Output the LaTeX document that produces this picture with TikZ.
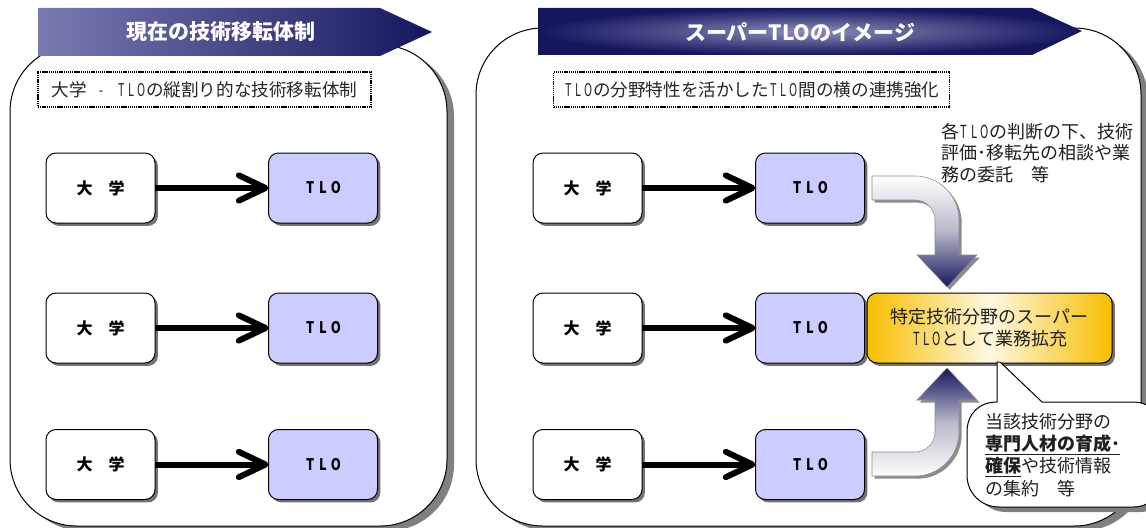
\documentclass[tikz,border=0pt]{standalone}
\usepackage{graphicx}
\usepackage{fontspec}
\setmainfont{Noto Sans CJK JP}
\usetikzlibrary{arrows.meta,shadows}
\definecolor{navy}{HTML}{16165E}
\definecolor{bannerlight}{HTML}{7A7AB2}
\definecolor{bannerglow}{HTML}{8C8CBC}
\definecolor{lav}{HTML}{CCCCFF}
\definecolor{gold}{HTML}{F7BE00}
\definecolor{cream}{HTML}{FFF8E2}
\definecolor{arrowmid}{HTML}{B8B8CA}
\newcommand\hw[1]{\makebox[0.56em]{\scalebox{0.62}[1]{#1}}}
\newcommand\hTLO{\hw{T}\hw{L}\hw{O}}
\newcommand\bw[1]{\makebox[0.8em]{\scalebox{0.8}[1]{#1}}}
\newcommand\bTLO{\bw{T}\bw{L}\bw{O}}
\newcommand\toparrowpath{(872,176) -- (915,176) .. controls (939.3,176) and (959,195.7) .. (959,220) -- (959,255) -- (977,255) -- (947,287) -- (917,255) -- (935,255) -- (935,220) .. controls (935,209) and (926,200) .. (915,200) -- (872,200) -- cycle}
\newcommand\botarrowpath{(872,476) -- (915,476) .. controls (939.3,476) and (959,456.3) .. (959,432) -- (959,400) -- (977,400) -- (947,368) -- (917,400) -- (935,400) -- (935,432) .. controls (935,443) and (926,452) .. (915,452) -- (872,452) -- cycle}
\begin{document}
\begin{tikzpicture}[x=0.75pt,y=-0.75pt,
  every node/.style={inner sep=0pt, outer sep=0pt},
  pshadow/.style={fill=black!50, draw=none, rounded corners=50pt},
  panel/.style={draw=black, line width=0.75pt, fill=white, rounded corners=50pt},
  btext/.style={text=white, font=\bfseries\fontsize{15.75pt}{18pt}\selectfont},
  subbox/.style={draw=black, line width=1.4pt, dash pattern=on 1pt off 0.6pt, fill=white,
    minimum height=26.25pt, text=black!85, font=\fontsize{13.2pt}{16pt}\selectfont},
  unibox/.style={draw=black, line width=0.75pt, fill=white, rounded corners=7.5pt,
    minimum width=81.75pt, minimum height=52.5pt, font=\bfseries\fontsize{12pt}{14pt}\selectfont,
    drop shadow={shadow xshift=2.2pt, shadow yshift=-2.2pt, fill=black!55, opacity=1}},
  tlobox/.style={unibox, fill=lav, font=\bfseries\fontsize{12pt}{14pt}\selectfont},
  link/.style={line width=4.5pt, -{Straight Barb[length=20pt,width=19pt,round]}},
  body/.style={font=\fontsize{13.5pt}{16.2pt}\selectfont, text=black!88, align=left},
  ashadow/.style={fill=black!45, draw=none},
  blockarrow/.style={draw=black!45, line width=0.4pt},
]
\useasboundingbox (0,0) rectangle (1146,528);

% panels
\fill[pshadow] (17,300) -- (17,50) -- (454,50) -- (454,531) -- (17,531) -- cycle;
\draw[panel] (10,300) -- (10,45) -- (447,45) -- (447,526) -- (10,526) -- cycle;
\fill[pshadow] (483,300) -- (483,33) -- (1148,33) -- (1148,531) -- (483,531) -- cycle;
\draw[panel] (476,300) -- (476,28) -- (1141,28) -- (1141,526) -- (476,526) -- cycle;

% banners
\shade[left color=bannerlight, right color=navy] (38,8) -- (380,8) -- (432,32) -- (380,56) -- (38,56) -- cycle;
\shade[inner color=bannerglow, outer color=navy] (538,8) -- (1032,8) -- (1082,31) -- (1032,55) -- (538,55) -- cycle;
\node[btext] (b1) at (221,32) {現在の技術移転体制};
\node[btext] (b2) at (800,32) {スーパーTLOのイメージ};

% subtitles
\node[subbox, minimum width=249.75pt] (s1) at (204.5,89.5) {大学\hw{}\hw{-}\hw{}\hTLO の縦割り的な技術移転体制};
\node[subbox, minimum width=297pt] (s2) at (751.5,89.5) {\hTLO の分野特性を活かした\hTLO 間の横の連携強化};

% left column
\node[unibox] (u1) at (100.5,188) {大　学};
\node[unibox] (u2) at (100.5,328) {大　学};
\node[unibox] (u3) at (100.5,464.5) {大　学};
\node[tlobox] (t1) at (323,188) {\bTLO};
\node[tlobox] (t2) at (323,328) {\bTLO};
\node[tlobox] (t3) at (323,464.5) {\bTLO};
\draw[link] (u1.east) -- (t1.west);
\draw[link] (u2.east) -- (t2.west);
\draw[link] (u3.east) -- (t3.west);

% right column
\node[unibox] (v1) at (587.5,188) {大　学};
\node[unibox] (v2) at (587.5,328) {大　学};
\node[unibox] (v3) at (587.5,464.5) {大　学};
\node[tlobox] (r1) at (810,188) {\bTLO};
\node[tlobox] (r2) at (810,328) {\bTLO};
\node[tlobox] (r3) at (810,464.5) {\bTLO};
\draw[link] (v1.east) -- (r1.west);
\draw[link] (v2.east) -- (r2.west);
\draw[link] (v3.east) -- (r3.west);

% super TLO box
\node[draw=black, line width=0.75pt, rounded corners=7.5pt, minimum width=183.75pt, minimum height=52.5pt,
  left color=gold, right color=gold, middle color=cream, align=center, text=black!88,
  font=\fontsize{13.5pt}{16.5pt}\selectfont,
  drop shadow={shadow xshift=2.2pt, shadow yshift=-2.2pt, fill=black!55, opacity=1}]
  (y) at (989.5,328) {特定技術分野のスーパー\\\hTLO として業務拡充};

% curved block arrows
\begin{scope}[xshift=2pt,yshift=-2pt]
  \fill[ashadow] \toparrowpath;
  \fill[ashadow] \botarrowpath;
\end{scope}
\shade[blockarrow, top color=white, bottom color=navy, middle color=arrowmid] \toparrowpath;
\shade[blockarrow, bottom color=white, top color=navy, middle color=arrowmid] \botarrowpath;

% notes
\node[body, anchor=north west] (n1) at (941,123) {各\hTLO の判断の下、技術\\評価･移転先の相談や業\\務の委託　等};

% callout
\fill[black!50] (1004,412) -- (1140,412) .. controls (1158,412) and (1172,426) .. (1172,444) -- (1172,480) .. controls (1172,498) and (1158,512) .. (1140,512) -- (1006,512) .. controls (988,512) and (974,498) .. (974,480) -- cycle;
\draw[line width=0.75pt, fill=white] (997,362) -- (1000,362) -- (1042,402) -- (1133,402) .. controls (1151,402) and (1165,416) .. (1165,434) -- (1165,475) .. controls (1165,493) and (1151,507) .. (1133,507) -- (999,507) .. controls (981,507) and (967,493) .. (967,475) -- (967,432) .. controls (967,414) and (979,402) .. (997,402) -- cycle;
\node[body, anchor=north west, font=\fontsize{13.5pt}{16.8pt}\selectfont] (c) at (985,413) {当該技術分野の\\\underline{\textbf{専門人材の育成･}}\\\underline{\textbf{確保}}や技術情報\\の集約　等};
\end{tikzpicture}
\end{document}
